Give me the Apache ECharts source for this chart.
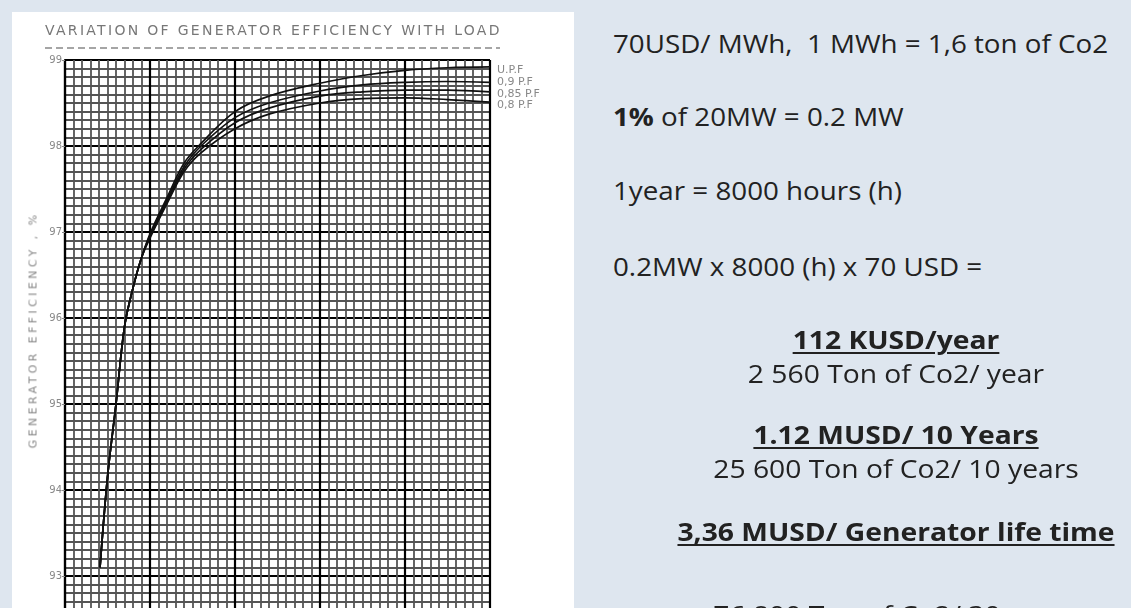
<!DOCTYPE html>
<html>
<head>
<meta charset="utf-8">
<script src="https://cdn.jsdelivr.net/npm/echarts@6/dist/echarts.min.js"></script>
<style>
    html, body { margin: 0; padding: 0; width: 1131px; height: 608px; overflow: hidden; background: #dee6ef; }
    #panel { position: absolute; left: 12px; top: 12px; width: 562px; height: 600px; background: #fff; }
    #chart { position: absolute; left: 0; top: 0; width: 575px; height: 700px; }
    #title { position: absolute; left: 45px; top: 22px; font: 14px 'DejaVu Sans'; color: #777; letter-spacing: 2.3px; white-space: nowrap; }
    #yname { position: absolute; left: 33px; top: 330px; font: 11px 'DejaVu Sans'; color: #888; letter-spacing: 3.4px; white-space: nowrap;
             transform: translate(-50%, -50%) rotate(-90deg); }
    .ln { position: absolute; font-family: 'Open Sans'; font-size: 25px; line-height: 30px; color: #222; white-space: nowrap;
          transform: scaleX(1.11); transform-origin: left center; }
    .c { left: 596px; width: 600px; text-align: center; transform: scaleX(1.13); transform-origin: center center; }
    .u { font-weight: bold; text-decoration: underline; text-decoration-thickness: 2px; text-underline-offset: 3px; }
</style>
</head>
<body>
<div id="panel"></div>
<div id="chart"></div>
<div id="title">VARIATION OF GENERATOR EFFICIENCY WITH LOAD</div>
<div id="yname">GENERATOR EFFICIENCY , %</div>

<div class="ln" style="left:613px;top:28px">70USD/ MWh,&nbsp; 1 MWh = 1,6 ton of Co2</div>
<div class="ln" style="left:613px;top:101px"><b>1%</b> of 20MW = 0.2 MW</div>
<div class="ln" style="left:613px;top:175px">1year = 8000 hours (h)</div>
<div class="ln" style="left:613px;top:251px">0.2MW x 8000 (h) x 70 USD =</div>
<div class="ln c" style="top:324px"><span class="u">112 KUSD/year</span></div>
<div class="ln c" style="top:358px">2 560 Ton of Co2/ year</div>
<div class="ln c" style="top:419px"><span class="u">1.12 MUSD/ 10 Years</span></div>
<div class="ln c" style="top:453px">25 600 Ton of Co2/ 10 years</div>
<div class="ln c" style="top:516px"><span class="u">3,36 MUSD/ Generator life time</span></div>
<div class="ln c" style="top:599px">76 800 Ton of Co2/ 30 years</div>

<script>
// load, % (x) and efficiency, % (y)
var loads   = [10.3, 12.5, 15, 17.5, 20, 22.5, 25, 30, 35, 40, 50, 60, 75, 87.5, 100, 112.5, 125];
var effUpf  = [93.1, 94.15, 95.0, 95.9, 96.35, 96.7, 96.98, 97.4, 97.8, 98.03, 98.4, 98.58, 98.73, 98.82, 98.88, 98.91, 98.92];
var eff090  = [93.1, 94.15, 95.0, 95.9, 96.35, 96.7, 96.96, 97.37, 97.76, 98.0, 98.33, 98.5, 98.64, 98.71, 98.74, 98.75, 98.74];
var eff085  = [93.1, 94.15, 95.0, 95.9, 96.35, 96.7, 96.95, 97.35, 97.73, 97.96, 98.27, 98.44, 98.58, 98.63, 98.65, 98.65, 98.63];
var eff080  = [93.1, 94.15, 95.0, 95.9, 96.35, 96.7, 96.93, 97.33, 97.7, 97.92, 98.2, 98.37, 98.5, 98.55, 98.56, 98.54, 98.51];
var seriesNames = ['U.P.F', '0,9 P.F', '0,85 P.F', '0,8 P.F'];
var yTicks = [92, 99];   // axis range
var xTicks = [0, 125];

var myChart = echarts.init(document.getElementById('chart'));

function pairs(ys) {
    return loads.map(function (x, i) { return [x, ys[i]]; });
}

// nudge the end labels apart like on the drawing
var labelShift = [3, 0, 2, 3];

var arr = [];
[effUpf, eff090, eff085, eff080].forEach(function (ys, i) {
    arr.push({
        name: seriesNames[i],
        type: 'line',
        data: pairs(ys),
        smooth: 0.35,
        symbol: 'none',
        lineStyle: { color: '#111', width: 1.7 },
        endLabel: {
            show: true,
            formatter: '{a}',
            color: '#888',
            fontSize: 11,
            fontFamily: 'DejaVu Sans',
            distance: 7,
            offset: [0, labelShift[i]]
        },
        z: 5
    });
});

var option = {
    animation: false,
    grid: { left: 65, top: 60, width: 425, height: 602 },
    xAxis: {
        type: 'value',
        min: xTicks[0],
        max: xTicks[1],
        interval: 25,
        axisLine: { show: true, lineStyle: { color: '#000', width: 2.2 } },
        axisTick: { show: false },
        axisLabel: { show: false },
        splitLine: { show: true, lineStyle: { color: '#000', width: 2.2 } },
        minorTick: { show: false, splitNumber: 10 },
        minorSplitLine: { show: true, lineStyle: { color: '#555', width: 1.8 } }
    },
    yAxis: {
        type: 'value',
        min: yTicks[0],
        max: yTicks[1],
        interval: 1,
        axisLine: { show: true, lineStyle: { color: '#000', width: 2.2 } },
        axisTick: { show: true, length: 3, lineStyle: { color: '#888' } },
        axisLabel: { color: '#888', fontSize: 10, fontFamily: 'DejaVu Sans', margin: 3 },
        splitLine: { show: true, lineStyle: { color: '#000', width: 2.2 } },
        minorTick: { show: false, splitNumber: 10 },
        minorSplitLine: { show: true, lineStyle: { color: '#555', width: 1.8 } }
    },
    graphic: [{
        type: 'line',
        shape: { x1: 45, y1: 48, x2: 500, y2: 48 },
        style: { stroke: '#888', lineWidth: 1.6, lineDash: [7, 4] }
    }],
    series: arr
};

myChart.setOption(option);
</script>
</body>
</html>
